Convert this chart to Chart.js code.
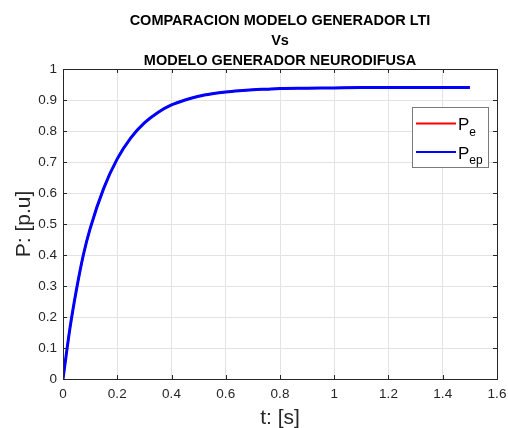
<!DOCTYPE html>
<html>
<head>
<meta charset="utf-8">
<script src="https://cdn.jsdelivr.net/npm/chart.js@4"></script>
<style>
  body { margin: 0; background: #fff; }
  canvas { display: block; }
</style>
</head>
<body>
<canvas id="chart" width="508" height="428"></canvas>
<script>
// tiempo [s] y potencia [p.u]
const tiempo = [0, 0.025, 0.05, 0.075, 0.1, 0.15, 0.2, 0.25, 0.3, 0.35, 0.4, 0.45, 0.5,
  0.55, 0.6, 0.65, 0.7, 0.75, 0.8, 0.9, 1.0, 1.1, 1.2, 1.3, 1.4, 1.5];
const Pe = [0, 0.16, 0.29, 0.40, 0.485, 0.615, 0.710, 0.778, 0.826, 0.860, 0.884, 0.900, 0.912,
  0.920, 0.926, 0.930, 0.933, 0.935, 0.937, 0.938, 0.939, 0.940, 0.940, 0.940, 0.940, 0.940];
const Pep = Pe.slice(); // modelo neurodifuso, se superpone al LTI

const xTicks = [0, 0.2, 0.4, 0.6, 0.8, 1, 1.2, 1.4, 1.6];
const yTicks = [0, 0.1, 0.2, 0.3, 0.4, 0.5, 0.6, 0.7, 0.8, 0.9, 1];
const titulo = ["COMPARACION MODELO GENERADOR LTI", "Vs", "MODELO GENERADOR NEURODIFUSA"];
const leyenda = [
  { base: "P", sub: "e", color: "#ff0000" },
  { base: "P", sub: "ep", color: "#0000ff" }
];

const toXY = ys => tiempo.map((t, i) => ({ x: t, y: ys[i] }));
const ink = "#262626";
const fam = "'Liberation Sans', Arial, sans-serif";

// titulo, marco, marcas internas y leyenda al estilo matlab
const matlabBox = {
  id: "matlabBox",
  afterDraw(chart) {
    const { ctx, chartArea: a, scales: { x, y } } = chart;
    ctx.save();

    ctx.fillStyle = "#000";
    ctx.font = "bold 14.5px " + fam;
    ctx.textAlign = "center";
    ctx.textBaseline = "alphabetic";
    const cx = (a.left + a.right) / 2;
    titulo.forEach((line, i) => ctx.fillText(line, cx, 25 + i * 20));

    ctx.strokeStyle = ink;
    ctx.lineWidth = 1;
    ctx.beginPath();
    xTicks.forEach(v => {
      const px = Math.round(x.getPixelForValue(v)) + 0.5;
      ctx.moveTo(px, a.bottom); ctx.lineTo(px, a.bottom - 4);
      ctx.moveTo(px, a.top); ctx.lineTo(px, a.top + 4);
    });
    yTicks.forEach(v => {
      const py = Math.round(y.getPixelForValue(v)) + 0.5;
      ctx.moveTo(a.left, py); ctx.lineTo(a.left + 4, py);
      ctx.moveTo(a.right, py); ctx.lineTo(a.right - 4, py);
    });
    ctx.stroke();
    ctx.strokeRect(Math.round(a.left) + 0.5, Math.round(a.top) + 0.5,
      Math.round(a.right - a.left), Math.round(a.bottom - a.top));

    // leyenda
    const lx = 412, ly = 107, lw = 76, lh = 60;
    ctx.fillStyle = "#fff";
    ctx.fillRect(lx, ly, lw, lh);
    ctx.strokeStyle = "#7a7a7a";
    ctx.strokeRect(lx + 0.5, ly + 0.5, lw, lh);
    leyenda.forEach((it, i) => {
      const yy = 123.5 + i * 28.5;
      ctx.strokeStyle = it.color;
      ctx.lineWidth = 2;
      ctx.beginPath();
      ctx.moveTo(416, yy); ctx.lineTo(456, yy);
      ctx.stroke();
      ctx.fillStyle = "#000";
      ctx.textAlign = "left";
      ctx.font = "17px " + fam;
      ctx.fillText(it.base, 458, yy + 6.5);
      const w = ctx.measureText(it.base).width;
      ctx.font = "12px " + fam;
      ctx.fillText(it.sub, 458 + w, yy + 12);
    });
    ctx.restore();
  }
};

new Chart(document.getElementById("chart"), {
  type: "line",
  data: {
    datasets: [
      { label: "Pe", data: toXY(Pe), borderColor: "#ff0000", borderWidth: 2, order: 2 },
      { label: "Pep", data: toXY(Pep), borderColor: "#0000ff", borderWidth: 3, order: 1 }
    ]
  },
  options: {
    responsive: false,
    animation: false,
    devicePixelRatio: 1,
    layout: { padding: { top: 69, right: 11, left: 0, bottom: 0 } },
    elements: {
      point: { radius: 0 },
      line: { cubicInterpolationMode: "monotone", fill: false }
    },
    plugins: {
      legend: { display: false },
      title: { display: false },
      tooltip: { enabled: false }
    },
    scales: {
      x: {
        type: "linear",
        min: 0,
        max: 1.6,
        afterBuildTicks: s => { s.ticks = xTicks.map(v => ({ value: v })); },
        afterFit: s => { s.height = 49; s.paddingLeft = 0; s.paddingRight = 0; },
        ticks: {
          color: ink,
          padding: 7,
          maxRotation: 0,
          font: { size: 13.5, family: fam },
          callback: v => String(v)
        },
        grid: { color: "#e3e3e3", drawTicks: false },
        border: { color: ink },
        title: {
          display: true,
          text: "t: [s]",
          color: ink,
          padding: { top: 0, bottom: -3 },
          font: { size: 21, family: fam }
        }
      },
      y: {
        min: 0,
        max: 1,
        afterBuildTicks: s => { s.ticks = yTicks.map(v => ({ value: v })); },
        afterFit: s => { s.width = 63; s.paddingTop = 0; s.paddingBottom = 0; },
        ticks: {
          color: ink,
          padding: 6,
          font: { size: 13.5, family: fam },
          callback: v => String(v)
        },
        grid: { color: "#e3e3e3", drawTicks: false },
        border: { color: ink },
        title: {
          display: true,
          text: "P: [p.u]",
          color: ink,
          padding: { top: 12, bottom: 0 },
          font: { size: 21, family: fam }
        }
      }
    }
  },
  plugins: [matlabBox]
});
</script>
</body>
</html>
